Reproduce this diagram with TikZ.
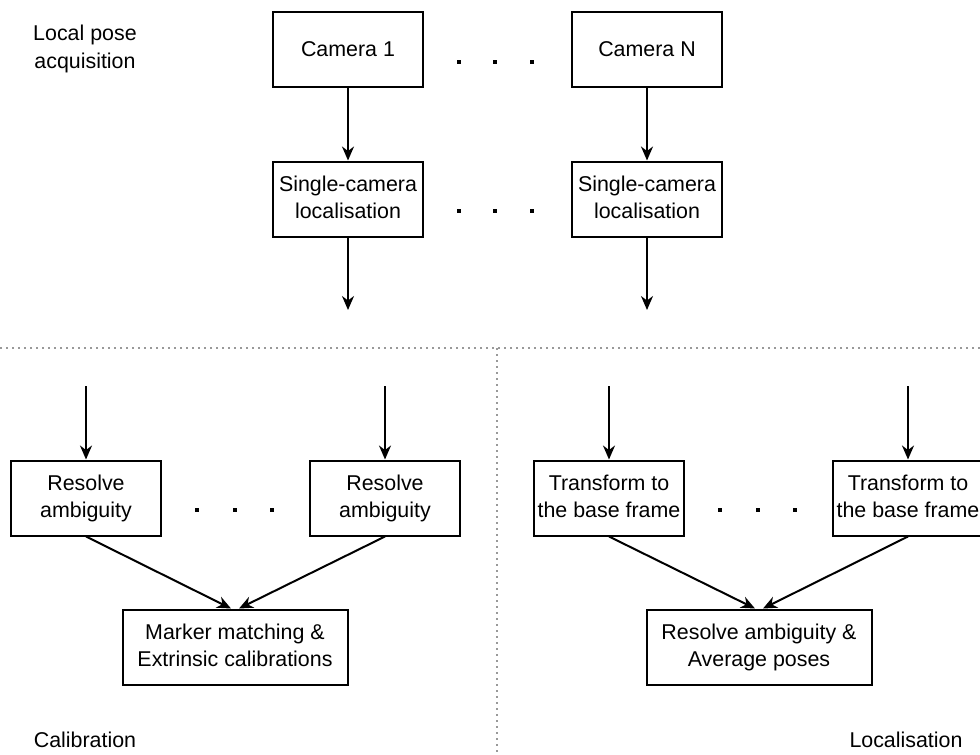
\documentclass[tikz,border=0pt]{standalone}
\usepackage{fontspec}
\setmainfont{Liberation Sans}
\usetikzlibrary{arrows.meta}

\begin{document}
\begin{tikzpicture}[x = 0.5pt, y = -0.5pt, line width = 1pt, >={Stealth[length=7pt,width=6pt]}]
    \tikzstyle{block}=[rectangle, draw = black, fill=white, minimum width=75pt, minimum height=37.5pt, inner sep=0pt, align=center, font=\fontsize{10.7}{13.5}\selectfont, execute at begin node=\rule{0pt}{9.7pt}, execute at end node=\vphantom{g}]
    \tikzstyle{wide}=[block, minimum width=112.5pt]
    \tikzstyle{phase}=[align=center, font=\fontsize{10.7}{14}\selectfont]
    \tikzstyle{divider}=[black!40, line width=0.8pt, dash pattern=on 0.8pt off 2.2pt]
    
    \useasboundingbox (0,0) rectangle (980,755);
    
    % sections
    \draw[divider] (0,348) -- (980,348);
    \draw[divider] (497,348) -- (497,755);
    \node[phase] (acq) at (85,49) {Local pose\\acquisition};
    \node[phase] (calib) at (85,740) {Calibration};
    \node[phase] (local) at (906,740) {Localisation};
    
    % boxes
    \foreach \name/\x/\y/\txt in {cam1/348/49/Camera 1, camN/647/49/Camera N,
        loc1/348/199/Single-camera\\localisation, locN/647/199/Single-camera\\localisation,
        res1/86/498/Resolve\\ambiguity, resN/385/498/Resolve\\ambiguity,
        tf1/609/498/Transform to\\the base frame, tfN/908/498/Transform to\\the base frame}
    \node[block] (\name) at (\x,\y) {\txt};
    \node[wide] (match) at (235,647) {Marker matching \&\\Extrinsic calibrations};
    \node[wide] (avg) at (759,647) {Resolve ambiguity \&\\Average poses};
    
    % free ends
    \foreach \name/\x/\y in {out1/348/310, outN/647/310, in1/86/386, inN/385/386, tin1/609/386, tinN/908/386}
    \coordinate (\name) at (\x,\y);
    
    \foreach \from/\to in {cam1/loc1, camN/locN, loc1/out1, locN/outN, in1/res1, inN/resN, tin1/tf1, tinN/tfN}
    \draw[->] (\from) -- (\to);
    
    \draw[->] (res1.south) -- ([xshift=-2pt]match.north);
    \draw[->] (resN.south) -- ([xshift=2pt]match.north);
    \draw[->] (tf1.south) -- ([xshift=-2pt]avg.north);
    \draw[->] (tfN.south) -- ([xshift=2pt]avg.north);
    
    % dots
    \foreach \x/\y in {459/62, 495/62, 532/62, 459/211, 495/211, 532/211,
        197/510, 235/510, 272/510, 720/510, 758/510, 795/510}
    \fill (\x-2,\y-2) rectangle (\x+2,\y+2);
\end{tikzpicture}
\end{document}
